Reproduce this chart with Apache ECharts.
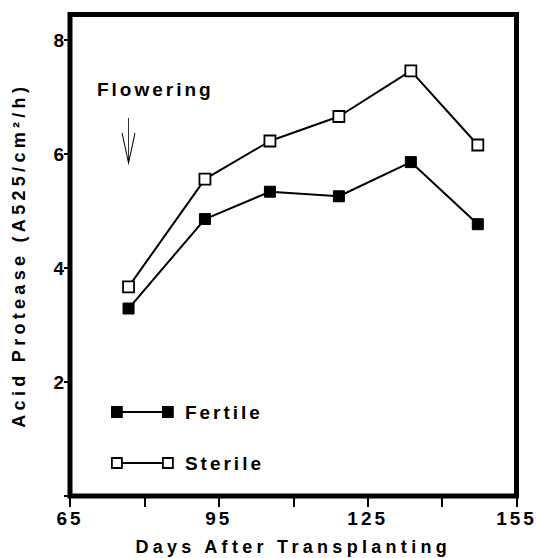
<!DOCTYPE html>
<html>
<head>
<meta charset="utf-8">
<script src="https://cdn.jsdelivr.net/npm/echarts@6/dist/echarts.min.js"></script>
<style>
  html, body { margin: 0; padding: 0; background: #fff; }
  #main text { letter-spacing: 3px; }
</style>
</head>
<body>
<div id="main" style="width: 537px; height: 558px;"></div>
<script>
// days after transplanting
const days = [76.8, 92.2, 105.3, 119.2, 133.7, 147.2]
const fertile = [3.29, 4.86, 5.34, 5.26, 5.86, 4.77]
const sterile = [3.67, 5.56, 6.23, 6.66, 7.46, 6.16]
const xTicks = [65, 80, 95, 110, 125, 140, 155]
const xLabels = [65, 95, 125, 155]
const yTicks = [0, 2, 4, 6, 8]
const yLabels = [2, 4, 6, 8]
// flowering note: arrow and text anchor in data units
const flowerArrow = [76.8, 6.24]
const flowerText = [82.2, 7.14]

const font = 'Liberation Sans, Arial, sans-serif'
const chart = echarts.init(document.getElementById('main'), null, {renderer: 'svg'})

const legendIcon = 'path://M0,0H10V10H0Z M10,5H51 M51,0H61V10H51Z'

const option = {
  animation: false,
  backgroundColor: '#fff',
  grid: {
    left: 70,
    right: 20.5,
    top: 14.5,
    bottom: 62,
    outerBoundsMode: 'none',
    containLabel: false,
    show: true,
    borderColor: '#000',
    borderWidth: 5
  },
  legend: {
    orient: 'vertical',
    left: 111,
    top: 402.5,
    padding: 0,
    itemWidth: 61,
    itemHeight: 10,
    itemGap: 32,
    textStyle: {
      color: '#000',
      fontFamily: font,
      fontWeight: 'bold',
      fontSize: 19,
      padding: [0, 0, 0, 7]
    },
    data: [
      {name: 'Fertile', icon: legendIcon, itemStyle: {color: '#000', borderColor: '#000', borderWidth: 1.8}},
      {name: 'Sterile', icon: legendIcon, itemStyle: {color: '#fff', borderColor: '#000', borderWidth: 1.8}}
    ]
  },
  xAxis: {
    type: 'value',
    min: 65,
    max: 155,
    name: 'Days After Transplanting',
    nameLocation: 'middle',
    nameGap: 42,
    nameTextStyle: {color: '#000', fontFamily: font, fontWeight: 'bold', fontSize: 18},
    axisLine: {show: false},
    splitLine: {show: false},
    axisTick: {
      show: true,
      customValues: xTicks,
      length: 11,
      lineStyle: {color: '#000', width: 2}
    },
    axisLabel: {
      customValues: xLabels,
      margin: 13,
      color: '#000',
      fontFamily: font,
      fontWeight: 'bold',
      fontSize: 19
    }
  },
  yAxis: {
    type: 'value',
    min: 0,
    max: 8.45,
    name: 'Acid Protease (A525/cm²/h)',
    nameLocation: 'middle',
    nameRotate: 90,
    nameGap: 42,
    nameTextStyle: {color: '#000', fontFamily: font, fontWeight: 'bold', fontSize: 18},
    axisLine: {show: false},
    splitLine: {show: false},
    axisTick: {
      show: true,
      customValues: yTicks,
      length: 6,
      lineStyle: {color: '#000', width: 2}
    },
    axisLabel: {
      customValues: yLabels,
      margin: 3,
      color: '#000',
      fontFamily: font,
      fontWeight: 'bold',
      fontSize: 19
    }
  },
  series: [
    {
      name: 'Fertile',
      type: 'line',
      data: days.map((d, i) => [d, fertile[i]]),
      symbol: 'rect',
      symbolSize: 11,
      lineStyle: {color: '#000', width: 2},
      itemStyle: {color: '#000', borderColor: '#000', borderWidth: 1},
      z: 3,
      markPoint: {
        silent: true,
        data: [
          {
            coord: flowerArrow,
            symbol: 'path://M6.5,0L6.5,45M0,15L6.5,45L13,15',
            symbolSize: [13, 45],
            itemStyle: {color: 'none', borderColor: '#000', borderWidth: 1.5},
            label: {show: false}
          },
          {
            coord: flowerText,
            symbol: 'rect',
            symbolSize: 2,
            itemStyle: {color: 'rgba(0,0,0,0)'},
            label: {
              show: true,
              position: 'inside',
              formatter: 'Flowering',
              color: '#000',
              fontFamily: font,
              fontWeight: 'bold',
              fontSize: 19
            }
          }
        ]
      }
    },
    {
      name: 'Sterile',
      type: 'line',
      data: days.map((d, i) => [d, sterile[i]]),
      symbol: 'rect',
      symbolSize: 11,
      lineStyle: {color: '#000', width: 2},
      itemStyle: {color: '#fff', borderColor: '#000', borderWidth: 1.8},
      z: 3
    }
  ]
}

chart.setOption(option)

// the axis titles are set wider than the other texts
function spaceTitles() {
  document.querySelectorAll('#main text').forEach(t => {
    const s = t.textContent
    if (s.startsWith('Days') || s.startsWith('Acid')) t.style.letterSpacing = '4.3px'
  })
}
chart.on('finished', spaceTitles)
spaceTitles()
</script>
</body>
</html>
